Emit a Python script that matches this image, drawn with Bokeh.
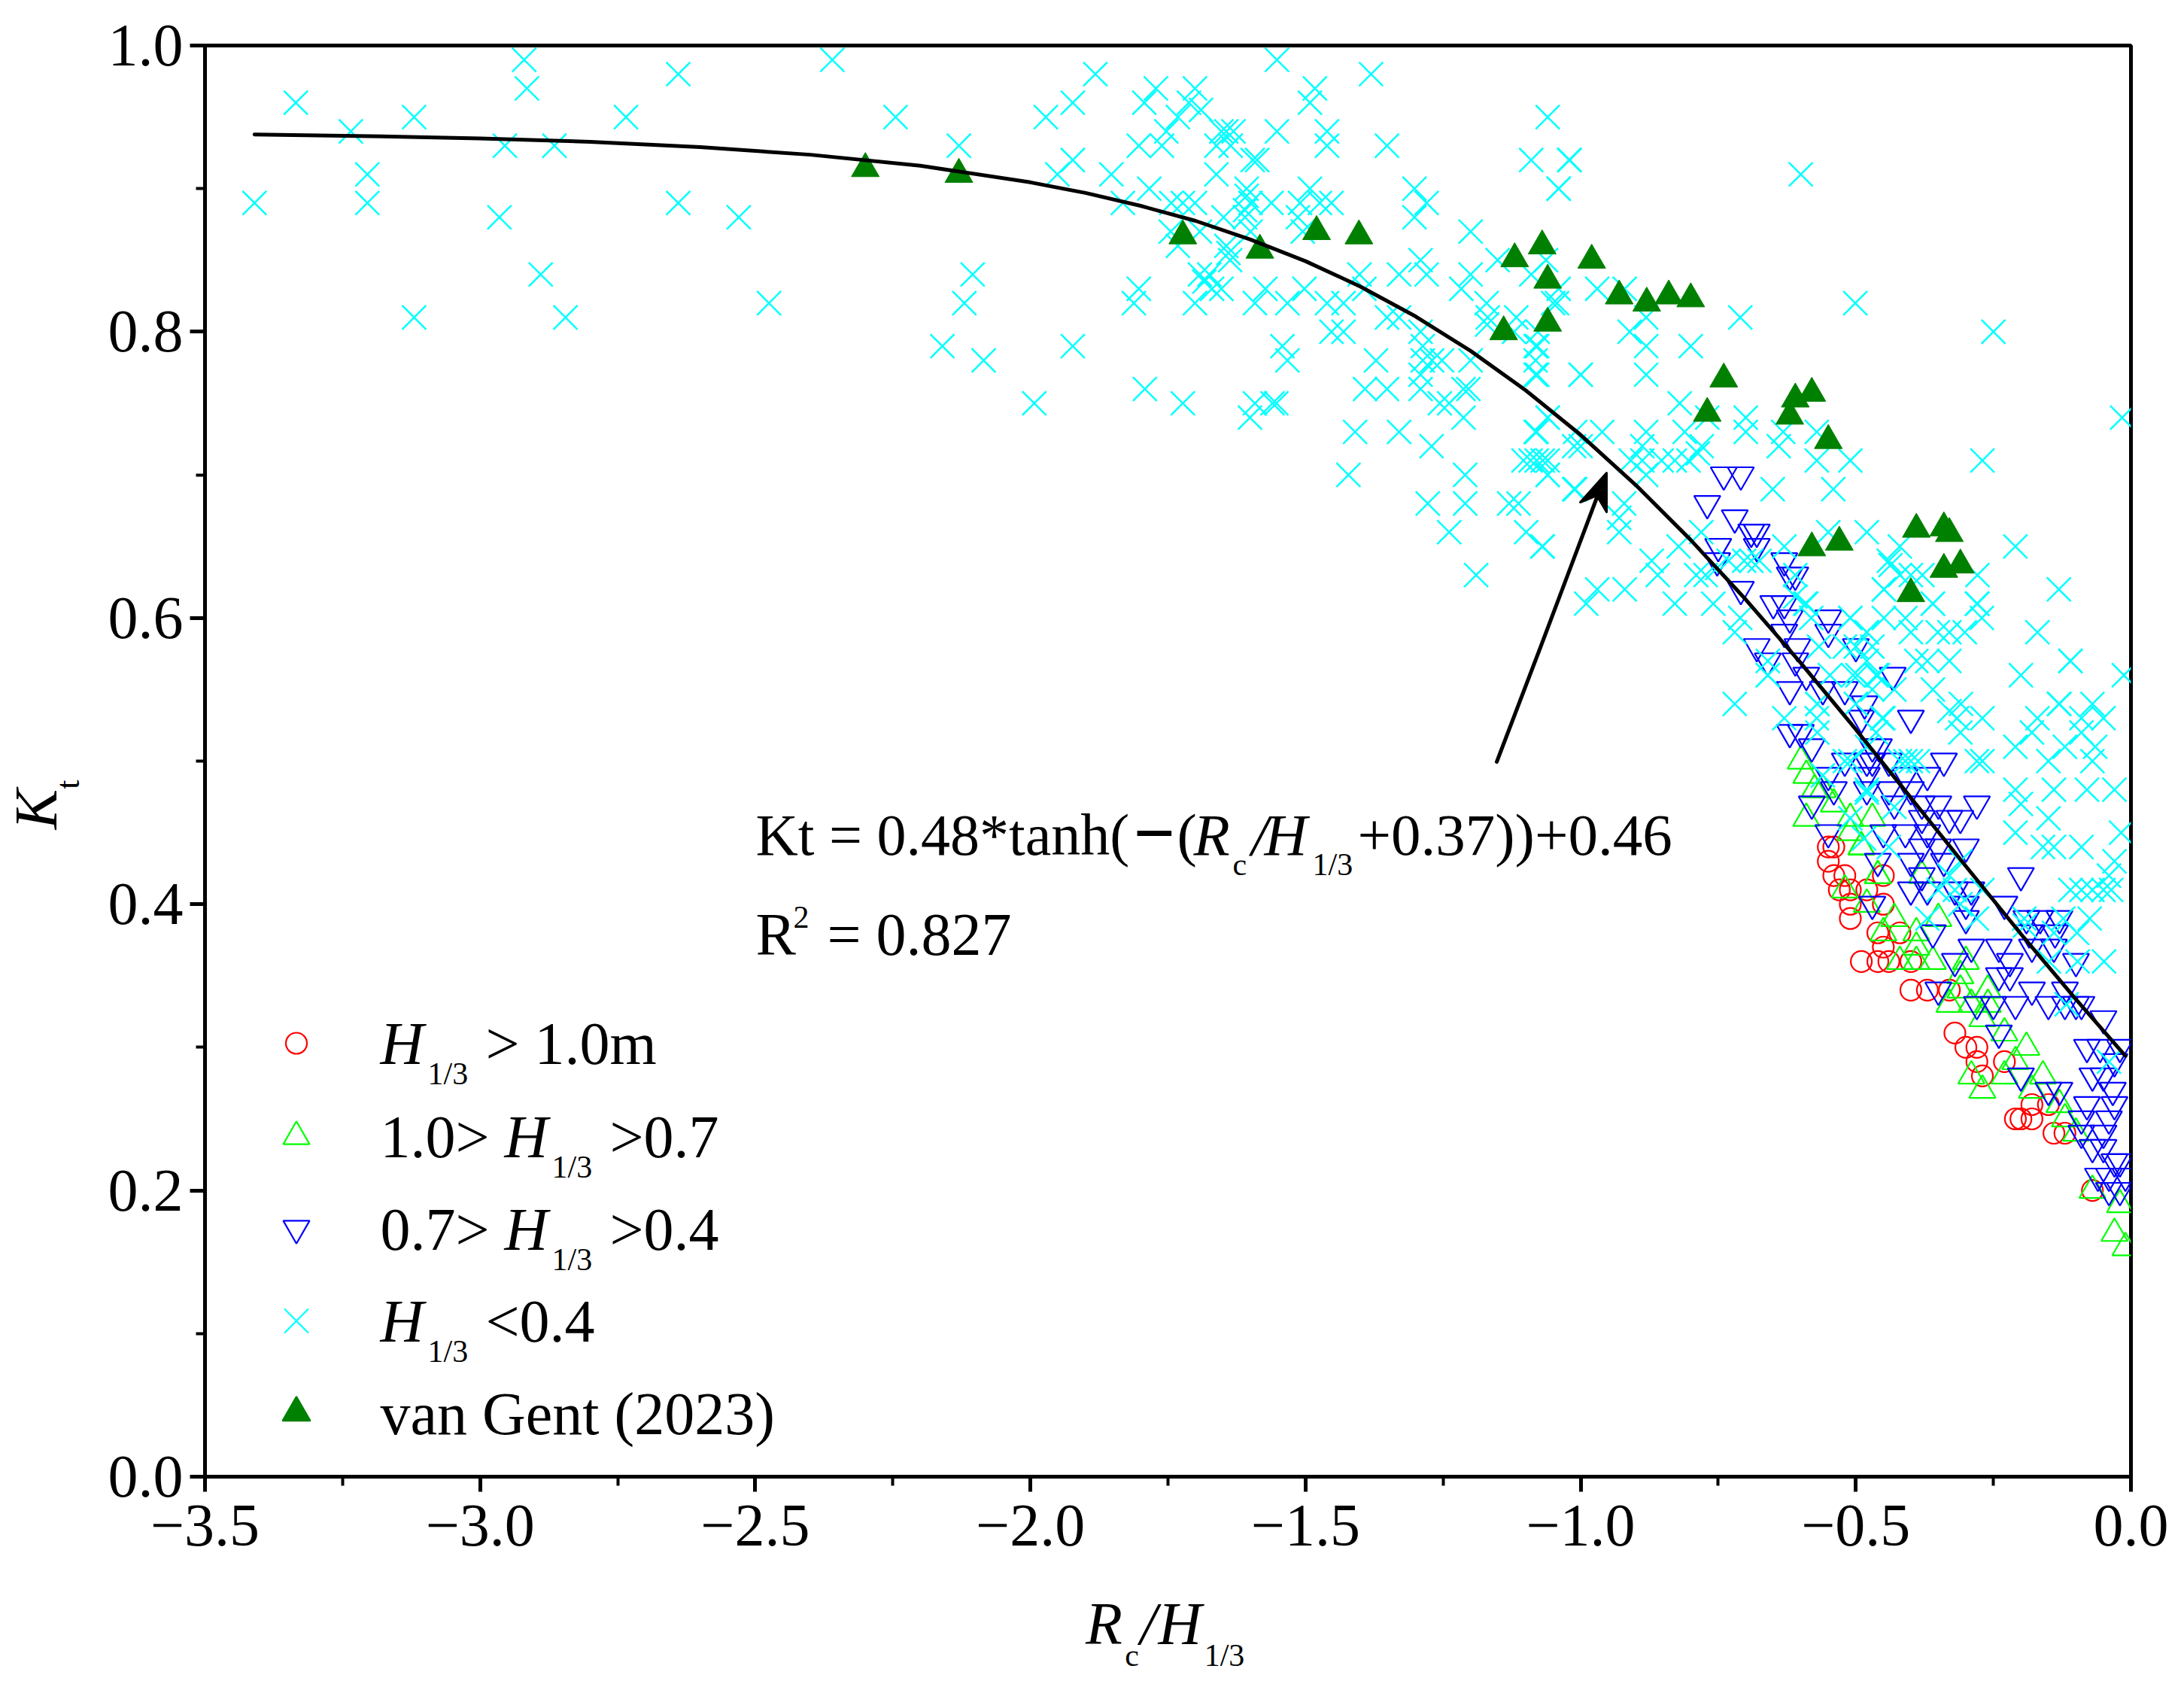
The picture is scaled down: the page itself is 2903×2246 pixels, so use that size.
from bokeh.plotting import figure
from bokeh.models import FixedTicker, Range1d, LinearAxis
from bokeh.core.properties import value
from bokeh.embed import file_html
from bokeh.resources import INLINE

x_ticks = [-3.5, -3.0, -2.5, -2.0, -1.5, -1.0, -0.5, 0.0]
x_labels = ["\u22123.5", "\u22123.0", "\u22122.5", "\u22122.0", "\u22121.5", "\u22121.0", "\u22120.5", "0.0"]
x_minor = [-3.25, -2.75, -2.25, -1.75, -1.25, -0.75, -0.25]
y_ticks = [0.0, 0.2, 0.4, 0.6, 0.8, 1.0]
y_labels = ["0.0", "0.2", "0.4", "0.6", "0.8", "1.0"]
y_minor = [0.1, 0.3, 0.5, 0.7, 0.9]

fit_x = [-3.41,-3.2,-3.0,-2.8,-2.6,-2.4,-2.2,-2.0,-1.9,-1.8,-1.7,-1.6,-1.5,-1.4,-1.3,-1.2,-1.1,-1.0,-0.9,-0.8,-0.7,-0.6,-0.5,-0.4,-0.3,-0.2,-0.1,-0.01]
fit_y = [.9378,.9367,.9351,.9327,.9290,.9237,.9160,.9044,.8970,.8880,.8775,.8644,.8493,.8315,.8107,.7866,.7591,.7279,.6929,.6545,.6129,.5685,.5221,.4744,.4265,.3792,.3335,.294]

red = [(-.55,.44),(-.54,.44),(-.55,.43),(-.54,.42),(-.52,.42),(-.53,.41),(-.51,.41),(-.48,.41),(-.51,.40),(-.45,.40),(-.51,.39),(-.45,.42),
       (-.46,.38),(-.42,.38),(-.45,.37),(-.49,.36),(-.46,.36),(-.44,.36),(-.40,.36),(-.40,.34),(-.37,.34),(-.33,.34),(-.32,.31),(-.30,.30),(-.28,.30),
       (-.28,.29),(-.23,.29),(-.27,.28),(-.18,.26),(-.15,.26),(-.21,.25),(-.20,.25),(-.18,.25),(-.14,.24),(-.12,.24),(-.07,.20)]

green = [(-.03,.17),(-.01,.16),(-.02,.19),(-.07,.20),(-.10,.24),(-.12,.25),(-.13,.26),(-.18,.27),(-.27,.27),(-.29,.28),(-.23,.28),(-.16,.28),
         (-.21,.29),(-.19,.30),(-.23,.31),(-.27,.32),(-.33,.33),(-.29,.33),(-.26,.33),(-.31,.34),(-.26,.34),(-.31,.35),(-.36,.36),(-.42,.36),(-.39,.36),(-.30,.36),
         (-.39,.37),(-.45,.38),(-.39,.38),(-.43,.39),(-.35,.39),(-.52,.41),(-.48,.40),(-.46,.42),(-.49,.44),(-.60,.50),(-.59,.49),(-.575,.48),(-.56,.48),
         (-.59,.46),(-.54,.47),(-.51,.46),(-.47,.46),(-.51,.45),(-.49,.44),(-.46,.42),(-.38,.42)]

blue = [(-.74,.70),(-.709,.70),(-.77,.68),(-.72,.67),(-.69,.66),(-.68,.66),(-.75,.65),(-.68,.65),(-.752,.64),(-.63,.64),(-.62,.63),(-.61,.63),
        (-.709,.62),(-.65,.61),(-.63,.61),(-.62,.60),(-.55,.60),(-.63,.59),(-.55,.59),(-.68,.58),(-.606,.58),(-.50,.58),(-.66,.57),(-.61,.57),(-.59,.56),(-.433,.56),
        (-.62,.55),(-.56,.55),(-.52,.55),(-.484,.54),(-.49,.53),(-.40,.53),(-.62,.52),(-.60,.52),(-.58,.51),(-.47,.51),(-.458,.51),
        (-.52,.50),(-.48,.50),(-.47,.50),(-.44,.50),(-.34,.50),(-.55,.49),(-.48,.49),(-.41,.49),(-.37,.49),(-.54,.48),(-.48,.48),(-.44,.48),(-.40,.48),
        (-.58,.47),(-.43,.47),(-.38,.47),(-.35,.47),(-.28,.47),(-.38,.46),(-.33,.46),(-.31,.46),(-.55,.45),(-.45,.45),(-.41,.45),(-.37,.45),
        (-.38,.44),(-.30,.44),(-.35,.44),(-.46,.43),(-.40,.43),(-.34,.43),(-.20,.42),(-.38,.42),(-.40,.41),(-.37,.41),(-.32,.41),(-.29,.41),
        (-.47,.40),(-.30,.40),(-.23,.40),(-.30,.39),(-.19,.39),(-.165,.39),(-.13,.39),(-.36,.38),(-.185,.38),(-.138,.38),
        (-.29,.37),(-.24,.37),(-.18,.37),(-.14,.37),(-.32,.36),(-.22,.36),(-.10,.36),(-.24,.35),(-.22,.35),(-.35,.34),(-.18,.34),(-.12,.34),
        (-.28,.33),(-.25,.33),(-.21,.33),(-.15,.33),(-.12,.33),(-.10,.33),(-.09,.33),(-.05,.32),(-.24,.31),(-.08,.30),(-.056,.30),(-.02,.30),(-.03,.29),
        (-.20,.28),(-.07,.28),(-.05,.28),(-.15,.27),(-.13,.27),(-.033,.27),(-.08,.26),(-.03,.26),(-.09,.25),(-.04,.25),(-.09,.24),(-.05,.24),
        (-.07,.23),(-.05,.23),(-.03,.22),(-.02,.22),(-.06,.21),(-.04,.21),(-.01,.21),(-.04,.20),(-.02,.20)]

cyan = [(-3.41,.89),(-3.335,.96),(-3.235,.94),(-3.205,.91),(-3.205,.89),(-3.12,.95),(-3.12,.81),(-2.955,.93),(-2.965,.88),(-2.92,.99),(-2.915,.97),(-2.89,.84),
        (-2.865,.93),(-2.845,.81),(-2.735,.95),(-2.64,.89),(-2.64,.98),(-2.53,.88),(-2.475,.82),(-2.36,.99),(-2.245,.95),(-2.16,.79),(-2.13,.93),(-2.12,.82),(-2.105,.84),(-2.085,.78),
        (-1.882,.98),(-1.923,.96),(-1.972,.95),(-1.793,.96),(-1.772,.97),(-1.701,.97),(-1.712,.96),(-1.732,.95),(-1.69,.955),(-1.753,.94),(-1.803,.93),(-1.761,.93),
        (-1.923,.92),(-1.951,.91),(-1.853,.91),(-1.784,.90),(-1.662,.91),(-1.653,.94),(-1.644,.94),(-1.631,.94),(-1.662,.93),(-1.636,.93),(-1.588,.92),(-1.596,.92),
        (-1.552,.94),(-1.461,.94),(-1.461,.93),(-1.483,.97),(-1.492,.96),(-1.552,.99),(-1.381,.98),(-1.352,.93),(-1.06,.95),(-1.09,.92),(-1.02,.92),(-1.04,.90),
        (-1.832,.89),(-1.744,.89),(-1.723,.89),(-1.701,.89),(-1.607,.90),(-1.607,.895),(-1.60,.89),(-1.61,.885),(-1.562,.89),(-1.492,.90),(-1.51,.89),(-1.474,.89),(-1.453,.89),
        (-1.514,.88),(-1.302,.90),(-1.28,.89),(-1.302,.88),(-1.20,.87),(-1.649,.88),(-1.61,.88),(-1.745,.87),(-1.692,.87),(-1.60,.87),(-1.505,.87),(-1.732,.86),(-1.644,.86),
        (-1.637,.85),(-1.64,.855),(-1.692,.84),(-1.675,.84),(-1.684,.835),(-1.653,.83),(-1.67,.83),(-1.573,.83),(-1.502,.83),(-1.402,.84),(-1.33,.84),(-1.291,.85),(-1.28,.84),
        (-1.20,.84),(-1.217,.83),(-1.151,.85),(-1.09,.84),(-1.393,.83),(-1.803,.83),(-1.812,.82),(-1.701,.82),(-1.592,.82),(-1.533,.82),(-1.461,.82),(-1.431,.82),(-1.171,.82),(-1.043,.82),
        (-1.352,.81),(-1.33,.81),(-1.291,.80),(-1.453,.80),(-1.431,.80),(-1.169,.81),(-1.117,.81),(-1.17,.805),(-1.121,.80),(-1.078,.80),(-1.923,.79),(-1.542,.79),(-1.533,.78),
        (-1.287,.79),(-1.372,.78),(-1.287,.78),(-1.27,.78),(-1.252,.78),(-1.20,.78),(-1.291,.76),(-1.291,.77),(-1.082,.79),(-1.082,.78),(-1.082,.77),(-1.392,.76),(-1.352,.76),
        (-1.204,.76),(-1.213,.76),(-1.0,.77),(-1.993,.75),(-1.792,.76),(-1.723,.75),(-1.592,.75),(-1.56,.75),(-1.553,.75),(-1.601,.74),(-1.256,.75),(-1.239,.75),(-1.213,.74),(-1.06,.74),
        (-1.41,.73),(-1.33,.73),(-1.082,.73),(-1.012,.72),(-1.271,.72),(-1.104,.71),(-1.091,.71),(-1.069,.71),(-1.06,.70),(-1.422,.70),(-1.21,.70),(-1.278,.68),(-1.21,.68),(-1.13,.68),(-1.113,.68),
        (-1.239,.66),(-1.099,.66),(-1.069,.65),(-1.19,.63),(-1.012,.69),
        (-1.021,.92),(-1.04,.90),(-.60,.91),(-.501,.82),(-.25,.80),(-.71,.81),(-.97,.83),(-.92,.83),(-.881,.81),(-.911,.80),(-.881,.79),(-.80,.79),(-1.05,.82),(-1.04,.83),(-1.063,.85),
        (-1.079,.79),(-1.079,.77),(-1.0,.77),(-.881,.77),(-.82,.75),(-.016,.74),(-.27,.71),(-.70,.74),(-.70,.73),(-.77,.74),(-.811,.73),(-.881,.73),(-.961,.73),(-1.01,.73),(-1.08,.73),(-1.06,.74),
        (-1.0,.72),(-.632,.73),(-.64,.72),(-.571,.73),(-.571,.71),(-.51,.71),(-.78,.72),(-.888,.72),(-.888,.71),(-.909,.71),(-.853,.71),(-.829,.71),(-.804,.71),(-.787,.715),(-.881,.70),
        (-1.06,.70),(-1.06,.71),(-1.08,.71),(-1.01,.69),(-.651,.69),(-.541,.69),(-.921,.68),(-.93,.67),(-.93,.66),(-.781,.66),(-1.07,.65),(-.822,.65),(-.48,.66),(-.55,.66),(-.63,.65),(-.42,.65),(-.21,.65),
        (-.871,.64),(-.86,.63),(-.79,.63),(-.773,.63),(-.731,.64),(-.703,.64),(-.675,.64),(-.69,.64),(-.752,.635),(-.44,.64),(-.42,.63),(-.379,.63),(-.61,.63),(-.97,.62),(-.99,.61),(-.92,.62),
        (-.829,.61),(-.759,.61),(-.449,.62),(-.279,.63),(-.131,.62),(-.61,.615),(-.279,.61),(-.36,.61),(-.592,.61),(-.271,.60),(-.51,.60),(-.449,.60),(-.41,.60),(-.71,.60),(-.581,.60),
        (-.72,.59),(-.40,.59),(-.351,.59),(-.33,.59),(-.302,.59),(-.17,.59),(-.48,.59),(-.39,.57),(-.37,.57),(-.33,.57),(-.11,.57),(-.50,.58),(-.48,.57),(-.20,.56),(-.013,.56),(-.36,.55),
        (-.463,.56),(-.43,.55),(-.72,.54),(-.505,.56),(-.66,.56),(-.66,.57),(-.63,.53),(-.57,.54),(-.571,.53),(-.131,.54),(-.07,.54),(-.309,.54),(-.33,.535),(-.316,.53),(-.27,.53),(-.31,.52),
        (-.17,.53),(-.09,.53),(-.05,.53),(-.18,.52),(-.21,.51),(-.09,.52),(-.065,.51),(-.452,.53),(-.437,.637),(-.40,.63),(-.449,.62),(-.36,.61),(-.28,.61),(-.11,.57),
        (-.57,.52),(-.45,.53),(-.48,.48),(-.387,.50),(-.41,.50),(-.66,.56),(-.567,.58),(-.59,.61),(-.51,.60),(-.48,.59),(-.47,.58),(-.52,.58),(-.547,.56),(-.497,.56),(-.46,.56),(-.57,.54),
        (-.50,.54),(-.47,.55),(-.52,.50),(-.13,.54),(-.12,.51),(-.15,.50),(-.07,.50),(-.28,.50),(-.27,.50),(-.21,.48),(-.14,.48),(-.08,.48),(-.03,.48),(-.20,.47),(-.15,.46),(-.21,.45),(-.018,.45),
        (-.16,.44),(-.14,.44),(-.09,.44),(-.03,.43),(-.04,.42),(-.11,.41),(-.09,.41),(-.05,.41),(-.07,.41),(-.036,.41),(-.049,.36),(-.097,.36),(-.149,.36),(-.075,.39),(-.123,.39),(-.194,.39),
        (-.37,.39),(-.098,.38),(-.14,.38),(-.193,.385),(-.117,.33),(-.04,.29),(-.31,.43),(-.33,.42),(-.27,.41),(-.32,.41),(-.31,.40),(-.35,.41),(-.28,.39),
        (-.51,.46),(-.485,.446),(-.44,.44),(-.48,.478),(-.43,.468),(-.56,.49),(-.463,.52),(-.51,.50),(-.48,.51),(-.42,.50),(-.40,.50)]

vangent = [(-1.07,.86),(-.98,.85),(-1.06,.836),(-1.06,.806),(-.93,.825),(-.88,.82),(-.84,.825),(-.80,.823),(-.74,.767),(-.77,.743),(-.61,.753),(-.58,.757),(-.62,.741),(-.55,.724),
           (-.58,.649),(-.53,.653),(-.39,.662),(-.34,.663),(-.33,.659),(-.34,.634),(-.31,.637),(-.40,.617),(-2.30,.914),(-2.13,.91),(-1.723,.867),(-1.583,.857),(-1.48,.87),(-1.403,.867),(-1.12,.851),(-1.14,.80)]

FONT = "Liberation Serif"
SUB = 42
def X(px): return -3.5 + (px - 272) / 2560 * 3.5
def Y(py): return (1962 - py) / 1902

p = figure(width=2895, height=2238, frame_width=2560, frame_height=1902, output_backend="svg", toolbar_location=None,
           x_range=Range1d(-3.5, 0.0), y_range=Range1d(0.0, 1.0), min_border_left=272, min_border_right=63, min_border_top=60, min_border_bottom=276,
           background_fill_color="white", border_fill_color="white")
p.grid.visible = False
p.outline_line_color = "black"
p.outline_line_width = 5
for ax, ticks, minor, labels in [(p.xaxis[0], x_ticks, x_minor, x_labels), (p.yaxis[0], y_ticks, y_minor, y_labels)]:
    ax.ticker = FixedTicker(ticks=ticks, minor_ticks=minor)
    ax.major_label_overrides = dict(zip(ticks, labels))
    ax.major_label_text_font = FONT
    ax.major_label_text_font_size = "80px"
    ax.major_label_text_color = "black"
    ax.axis_line_width = 5
    ax.axis_line_color = "black"
    ax.major_tick_line_width = 5
    ax.minor_tick_line_width = 4
    ax.major_tick_out = 20
    ax.major_tick_in = 0
    ax.minor_tick_out = 12
    ax.minor_tick_in = 0
p.xaxis[0].major_label_standoff = 18
p.yaxis[0].major_label_standoff = 9

def title_axis(side, pos, labels, size, style, standoff, vertical=False):
    ax = LinearAxis(ticker=FixedTicker(ticks=pos, minor_ticks=[]), major_label_overrides=dict(zip(pos, labels)),
                    major_label_text_font=FONT, major_label_text_font_size=f"{size}px", major_label_text_font_style=style,
                    major_label_text_color="black", axis_line_color=None, major_tick_line_color=None, minor_tick_line_color=None,
                    major_tick_out=0, major_tick_in=0, minor_tick_out=0, minor_tick_in=0, major_label_standoff=standoff)
    if vertical:
        ax.major_label_orientation = "vertical"
    p.add_layout(ax, side)

# axis titles are tick labels of label-only axes
title_axis("below", [X(1467), X(1526), X(1568)], ["R", "/", "H"], 80, "italic", 57)
title_axis("below", [X(1504), X(1627)], ["c", "1/3"], SUB, "normal", -28)
title_axis("left", [Y(1042)], ["t"], 44, "normal", 26, vertical=True)
title_axis("left", [Y(1075)], ["K"], 80, "italic", -29, vertical=True)

def sc(pts, marker, size, color, fill=None, lw=2.2):
    xs = [a for a, _ in pts]; ys = [b for _, b in pts]
    p.scatter(xs, ys, marker=marker, size=size, line_color=color, line_width=lw, fill_color=fill, fill_alpha=0 if fill is None else 1)

sc(red, "circle", 28, "#FF0000")
sc(green, "triangle", 35, "#00FF00")
sc(blue, "inverted_triangle", 35, "#0000FF")
sc(cyan, "x", 45, "#00FFFF", lw=2.5)
sc(vangent, "triangle", 37, "#008000", fill="#008000", lw=1)

p.line(fit_x, fit_y, line_color="black", line_width=5, line_cap="round")

# arrow pointing at the fit curve
p.line([X(1989), X(2047), X(2128)], [Y(1012), Y(860), Y(645)], line_color="black", line_width=5, line_cap="round")
p.patch([X(2135), X(2100), X(2122), X(2135)], [Y(628), Y(667), Y(658), Y(680)], fill_color="black", line_color="black", line_width=3, line_join="round")

def T(px, py, s, size=80, style="normal", angle=0):
    p.text([X(px)], [Y(py - 0.31 * size)], text=[s], text_font=value(FONT), text_font_size=value(f"{size}px"), text_font_style=style,
           text_color="black", text_align="left", text_baseline="alphabetic", angle=angle)

# legend
leg_x = 393.5
sc_leg = [([(X(leg_x), Y(1386))], "circle", 28, "#FF0000", None), ([(X(leg_x), Y(1510))], "triangle", 35, "#00FF00", None),
          ([(X(leg_x), Y(1632))], "inverted_triangle", 35, "#0000FF", None), ([(X(leg_x), Y(1755))], "x", 45, "#00FFFF", None),
          ([(X(leg_x), Y(1877))], "triangle", 37, "#008000", "#008000")]
for pts, m, s, c, f in sc_leg:
    sc(pts, m, s, c, fill=f)

T(505, 1411, "H", style="italic"); T(568, 1440, "1/3", SUB); T(645, 1411, "> 1.0m")
T(505, 1535, "1.0>"); T(670, 1535, "H", style="italic"); T(733, 1564, "1/3", SUB); T(810, 1535, ">0.7")
T(505, 1658, "0.7>"); T(670, 1658, "H", style="italic"); T(733, 1687, "1/3", SUB); T(810, 1658, ">0.4")
T(505, 1780, "H", style="italic"); T(568, 1809, "1/3", SUB); T(645, 1780, "<0.4")
T(505, 1903, "van Gent (2023)")

# equation
T(1004, 1133, "Kt = 0.48*tanh(", 78)
T(1506, 1138, "\u2212", 98, "bold"); T(1564, 1133, "(", 79)
T(1586, 1133, "R", 79, "italic"); T(1638, 1162, "c", SUB); T(1663, 1133, "/", 79, "italic"); T(1680, 1133, "H", 79, "italic")
T(1744, 1162, "1/3", SUB); T(1804, 1133, "+0.37))+0.46", 79)
T(1004, 1266, "R", 80); T(1054, 1232, "2", SUB); T(1099, 1266, "= 0.827", 80)

open("out.html", "w").write(file_html(p, INLINE))
